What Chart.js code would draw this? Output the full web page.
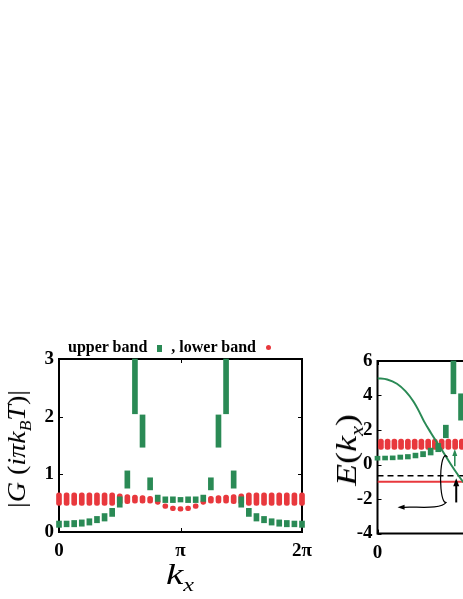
<!DOCTYPE html>
<html>
<head>
<meta charset="utf-8">
<script src="https://cdn.jsdelivr.net/npm/chart.js@4.4.1/dist/chart.umd.min.js"></script>
<style>
html,body{margin:0;padding:0;background:#fff;width:463px;height:599px;overflow:hidden;position:relative;}
.box{position:absolute;}
#leftBox{left:0;top:335px;width:325px;height:264px;}
#rightBox{left:330px;top:335px;width:200px;height:264px;}
.t{position:absolute;white-space:nowrap;color:#000;font-family:"Liberation Serif","DejaVu Serif",serif;line-height:1;}
sub{font-size:0.62em;vertical-align:-0.35em;line-height:0;}
.sq{display:inline-block;width:5px;height:7px;background:#2a8a55;margin:0 9px 0 10px;vertical-align:0px;}
.dot{display:inline-block;width:5px;height:5px;border-radius:50%;background:#e8383d;margin:0 0 0 10px;vertical-align:2px;}
</style>
</head>
<body>
<div class="box" id="leftBox"><canvas id="c1" width="325" height="264"></canvas></div>
<div class="box" id="rightBox"><canvas id="c2" width="200" height="264"></canvas></div>

<div class="t" id="legend" style="left:68px;top:339px;font-size:16px;font-weight:bold;">upper band<span class="sq"></span>, lower band<span class="dot"></span></div>
<div class="t" style="left:17px;top:449px;font-size:26px;transform:translate(-50%,-50%) rotate(-90deg) scaleX(1.08);">|<i>G</i> (<i>iπk</i><sub><i>B</i></sub><i>T</i>)|</div>
<div class="t" style="left:180px;top:574px;font-size:30px;transform:translate(-50%,-50%) scaleX(1.3);"><i>k</i><sub><i>x</i></sub></div>
<div class="t" style="left:346px;top:450px;font-size:30px;transform:translate(-50%,-50%) rotate(-90deg) scaleX(1.2);"><i>E</i>(<i>k</i><sub><i>x</i></sub>)</div>

<script>
// ---------- data: left panel |G(iπk_BT)| vs k_x (k_x in units of π) ----------
const kxLeft = [0,0.0625,0.125,0.1875,0.25,0.3125,0.375,0.4375,0.5,0.5625,0.625,0.6875,0.75,0.8125,0.875,0.9375,1,
                1.0625,1.125,1.1875,1.25,1.3125,1.375,1.4375,1.5,1.5625,1.625,1.6875,1.75,1.8125,1.875,1.9375,2];
const upperLo = [0.08,0.09,0.09,0.10,0.12,0.16,0.19,0.27,0.43,0.76,2.05,1.47,0.73,0.53,0.51,0.51,0.52,
                 0.51,0.51,0.53,0.73,1.47,2.05,0.76,0.43,0.27,0.19,0.16,0.12,0.10,0.09,0.09,0.08];
const upperHi = [0.19,0.19,0.20,0.21,0.23,0.27,0.32,0.41,0.61,1.06,3.00,2.03,0.94,0.64,0.61,0.61,0.60,
                 0.61,0.61,0.64,0.94,2.03,3.00,1.06,0.61,0.41,0.32,0.27,0.23,0.21,0.20,0.19,0.19];
const lowerLo = [0.46,0.46,0.46,0.46,0.46,0.46,0.46,0.46,0.48,0.49,0.50,0.50,0.50,0.48,0.41,0.37,0.36,
                 0.37,0.41,0.48,0.50,0.50,0.50,0.49,0.48,0.46,0.46,0.46,0.46,0.46,0.46,0.46,0.46];
const lowerHi = [0.68,0.68,0.68,0.68,0.68,0.68,0.68,0.68,0.66,0.65,0.64,0.63,0.62,0.56,0.49,0.45,0.44,
                 0.45,0.49,0.56,0.62,0.63,0.64,0.65,0.66,0.68,0.68,0.68,0.68,0.68,0.68,0.68,0.68];
const xTickLabels = ['0','π','2π'];

// ---------- data: right panel E(k_x) ----------
const kxRightUpper = [0,0.0625,0.125,0.1875,0.25,0.3125,0.375,0.4375,0.5,0.5625,0.625,0.6875];
const upperRLo = [0.25,0.26,0.27,0.30,0.32,0.38,0.45,0.55,0.74,1.55,4.10,2.57];
const upperRHi = [0.48,0.49,0.50,0.55,0.58,0.66,0.75,0.95,1.22,2.28,6.00,4.10];
const kxRightLower = [0.028,0.083,0.139,0.194,0.250,0.306,0.361,0.417,0.472,0.528,0.583,0.639,0.694];
const lowerRLo = [0.87,0.87,0.87,0.87,0.87,0.87,0.87,0.87,0.87,0.87,0.87,0.87,0.87];
const lowerRHi = [1.47,1.47,1.47,1.47,1.47,1.47,1.47,1.47,1.47,1.47,1.47,1.47,1.47];
const curveK = [0,0.08,0.16,0.23,0.296,0.342,0.383,0.44,0.539,0.607,0.663,0.704,0.75];
const curveE = [5.0,4.93,4.68,4.25,3.65,3.08,2.5,1.83,0.74,-0.03,-0.61,-1.0,-1.4];
const dashedLevel = [-0.65, -0.65];
const redLevel = [-1.0, -1.0];
const levelK = [0, 1];
const xTickLabelsRight = ['0','π'];
// annotation marks (data coordinates)
const greenArrow = {k:0.636, from:-0.1, to:0.9};
const blackArrow = {k:0.648, from:-2.2, to:-0.8};
const loopMark = {k:0.56, e:-0.84, rk:0.041, re:1.36};
const tailEnd = {k:0.165, e:-2.48};

const GREEN = '#2a8a55', RED = '#e8383d';
const SERIF = "'Liberation Serif','DejaVu Serif',serif";
const tickFont = {family:SERIF, size:19, weight:'bold'};

const rangeData = (ks, lo, hi) => ks.map((k,i)=>({x:k, y:[lo[i], hi[i]]}));
const lineData = (ks, vs) => ks.map((k,i)=>({x:k, y:vs[i]}));

const framePlugin = {
  id:'frame',
  beforeDatasetsDraw(chart){
    const {ctx, chartArea:a} = chart;
    const xs = chart.scales.x, ys = chart.scales.y;
    ctx.save();
    ctx.strokeStyle = '#000';
    ctx.lineWidth = 2;
    ctx.strokeRect(a.left, a.top, a.right-a.left, a.bottom-a.top);
    ctx.lineWidth = 1;
    ctx.beginPath();
    ys.ticks.forEach(t=>{
      const p = Math.round(ys.getPixelForValue(t.value))+0.5;
      ctx.moveTo(a.left, p); ctx.lineTo(a.left+4, p);
      ctx.moveTo(a.right, p); ctx.lineTo(a.right-4, p);
    });
    xs.ticks.forEach(t=>{
      const p = Math.round(xs.getPixelForValue(t.value))+0.5;
      ctx.moveTo(p, a.bottom); ctx.lineTo(p, a.bottom-4);
      ctx.moveTo(p, a.top); ctx.lineTo(p, a.top+4);
    });
    ctx.stroke();
    ctx.restore();
  }
};

function arrowHead(ctx, x, y, ang, len, wid, color){
  ctx.save();
  ctx.translate(x,y); ctx.rotate(ang);
  ctx.fillStyle = color;
  ctx.beginPath();
  ctx.moveTo(0,0); ctx.lineTo(-len, -wid/2); ctx.lineTo(-len, wid/2); ctx.closePath();
  ctx.fill();
  ctx.restore();
}

const annotPlugin = {
  id:'annot',
  afterDatasetsDraw(chart){
    const {ctx} = chart;
    const xs = chart.scales.x, ys = chart.scales.y;
    const px = k=>xs.getPixelForValue(k), py = e=>ys.getPixelForValue(e);
    ctx.save();
    // green vertical arrow
    let x = px(greenArrow.k);
    ctx.strokeStyle = GREEN; ctx.lineWidth = 1.6;
    ctx.beginPath(); ctx.moveTo(x, py(greenArrow.from)); ctx.lineTo(x, py(greenArrow.to)+5); ctx.stroke();
    arrowHead(ctx, x, py(greenArrow.to), -Math.PI/2, 7, 5, GREEN);
    // black vertical arrow
    x = px(blackArrow.k);
    ctx.strokeStyle = '#000'; ctx.lineWidth = 2;
    ctx.beginPath(); ctx.moveTo(x, py(blackArrow.from)); ctx.lineTo(x, py(blackArrow.to)+6); ctx.stroke();
    arrowHead(ctx, x, py(blackArrow.to), -Math.PI/2, 8, 6, '#000');
    // loop
    const cx = px(loopMark.k), cy = py(loopMark.e);
    const rx = px(loopMark.k+loopMark.rk)-cx, ry = cy-py(loopMark.e+loopMark.re);
    ctx.lineWidth = 1.2;
    ctx.beginPath();
    ctx.ellipse(cx, cy, rx, ry, 0, -1.2, 1.4, true);
    ctx.stroke();
    // tail to the left
    const sx = cx + rx*Math.cos(1.4), sy = cy + ry*Math.sin(1.4);
    const ex = px(tailEnd.k), ey = py(tailEnd.e);
    ctx.beginPath();
    ctx.moveTo(sx, sy);
    ctx.bezierCurveTo(sx-6, sy+8, sx-30, ey-1, ex+6, ey);
    ctx.stroke();
    arrowHead(ctx, ex, ey, Math.PI, 7, 5, '#000');
    ctx.restore();
  }
};

new Chart(document.getElementById('c1'), {
  type:'bar',
  data:{datasets:[
    {label:'upper band', data:rangeData(kxLeft, upperLo, upperHi), backgroundColor:GREEN,
     barThickness:5, grouped:false, clip:false},
    {label:'lower band', data:rangeData(kxLeft, lowerLo, lowerHi), backgroundColor:RED,
     barThickness:5, borderRadius:2.5, borderSkipped:false, grouped:false, clip:false}
  ]},
  options:{
    responsive:false, animation:false, devicePixelRatio:1,
    layout:{padding:{top:24, right:23, left:0, bottom:0}},
    plugins:{legend:{display:false}, tooltip:{enabled:false}},
    scales:{
      x:{type:'linear', min:0, max:2, offset:false,
         grid:{display:false, drawTicks:false}, border:{display:false},
         ticks:{stepSize:1, padding:8, color:'#000', font:tickFont, maxRotation:0, autoSkip:false,
                callback:v=>xTickLabels[v]},
         afterFit:s=>{s.height=67;}},
      y:{type:'linear', min:0, max:3,
         grid:{display:false, drawTicks:false}, border:{display:false},
         ticks:{stepSize:1, padding:5, color:'#000', font:tickFont},
         afterFit:s=>{s.width=59;}}
    }
  },
  plugins:[framePlugin]
});

new Chart(document.getElementById('c2'), {
  type:'bar',
  data:{datasets:[
    {type:'line', label:'dispersion', data:lineData(curveK, curveE), borderColor:GREEN, borderWidth:2,
     pointRadius:0, cubicInterpolationMode:'monotone', fill:false},
    {label:'upper band', data:rangeData(kxRightUpper, upperRLo, upperRHi), backgroundColor:GREEN,
     barThickness:5, grouped:false, clip:false},
    {label:'lower band', data:rangeData(kxRightLower, lowerRLo, lowerRHi), backgroundColor:RED,
     barThickness:5, borderRadius:3, borderSkipped:false, grouped:false, clip:false},
    {type:'line', label:'level', data:lineData(levelK, dashedLevel), borderColor:'#000', borderWidth:1.5,
     borderDash:[6,4], pointRadius:0, fill:false},
    {type:'line', label:'red level', data:lineData(levelK, redLevel), borderColor:RED, borderWidth:2,
     pointRadius:0, fill:false}
  ]},
  options:{
    responsive:false, animation:false, devicePixelRatio:1,
    layout:{padding:{top:26, right:31, left:0, bottom:0}},
    plugins:{legend:{display:false}, tooltip:{enabled:false}},
    scales:{
      x:{type:'linear', min:0, max:1, offset:false,
         grid:{display:false, drawTicks:false}, border:{display:false},
         ticks:{stepSize:1, padding:8, color:'#000', font:tickFont, maxRotation:0, autoSkip:false,
                callback:v=>xTickLabelsRight[v]},
         afterFit:s=>{s.height=65.5;}},
      y:{type:'linear', min:-4, max:6,
         grid:{display:false, drawTicks:false}, border:{display:false},
         ticks:{stepSize:2, padding:5, color:'#000', font:tickFont},
         afterFit:s=>{s.width=47.5;}}
    }
  },
  plugins:[framePlugin, annotPlugin]
});
</script>
</body>
</html>
